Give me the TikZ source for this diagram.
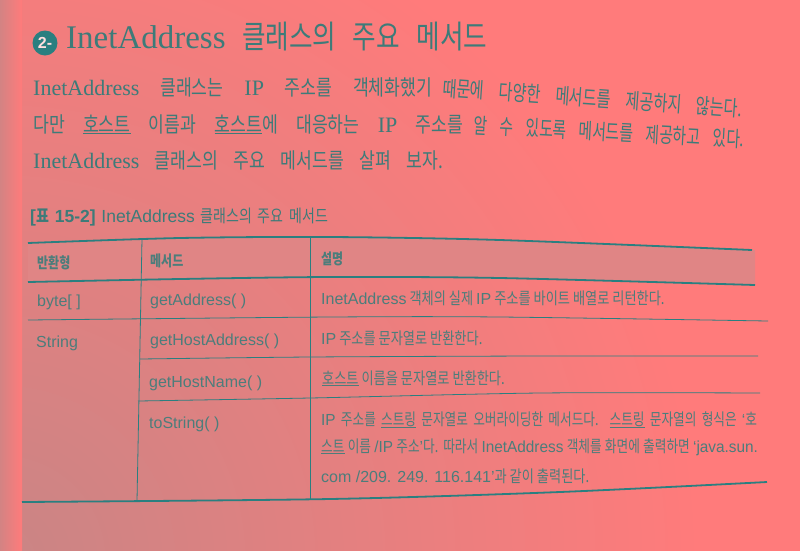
\documentclass[tikz,border=0pt]{standalone}
\usepackage{fontspec}
\setmainfont{Liberation Serif}
\newfontfamily\krfont[FakeStretch=0.8]{Noto Sans CJK KR}
\newfontfamily\sansfont{Liberation Sans}
\usepackage{xcolor}
\usepackage{graphicx}
\usepackage{tikz}
\usetikzlibrary{positioning}

\definecolor{pagebg}{HTML}{FF7B7B}
\definecolor{gutter}{HTML}{C98585}
\definecolor{headfill}{HTML}{E08585}
\definecolor{ink}{HTML}{3D7B79}
\definecolor{cellink}{HTML}{4C7D7B}
\definecolor{rulecol}{HTML}{2A7F80}

% latin words inside korean text
\newcommand\latsize{16}
\newcommand\latfam{\sansfont}
\newcommand\lat[1]{{\latfam\fontsize{\latsize}{\latsize}\selectfont #1}}

\begin{document}
\begin{tikzpicture}[
    x=1pt, y=-1pt,
    titletext/.style={
        anchor=base west, inner sep=0pt, text=ink,
        font={\def\latsize{33}\let\latfam\rmfamily\krfont\fontsize{32}{36}\selectfont}
    },
    bodyline/.style={
        anchor=base west, inner sep=0pt, text=ink,
        font={\def\latsize{22}\let\latfam\rmfamily\krfont\fontsize{21.5}{24}\selectfont}
    },
    captext/.style={
        anchor=base west, inner sep=0pt, text=ink,
        font={\def\latsize{17.5}\let\latfam\sansfont\krfont\fontsize{17.5}{20}\selectfont}
    },
    headtext/.style={
        anchor=base west, inner sep=0pt, text=cellink,
        font=\krfont\bfseries\fontsize{15}{18}\selectfont
    },
    codetext/.style={
        anchor=base west, inner sep=0pt, text=cellink,
        font=\sansfont\fontsize{16}{18}\selectfont
    },
    celltext/.style={
        anchor=base west, inner sep=0pt, text=cellink,
        font={\def\latsize{16}\let\latfam\sansfont\krfont\fontsize{16.5}{18}\selectfont}
    },
    thickrule/.style={draw=rulecol, line width=1.8pt},
    thinrule/.style={draw=rulecol, line width=0.8pt}
]
    \useasboundingbox (0,0) rectangle (800,550);

    % Page
    \fill[pagebg] (-5,-5) rectangle (805,555);
    \begin{scope}
        \clip (-5,-5) rectangle (805,555);
        \shade[inner color=gutter, outer color=pagebg] (0,560) circle (700);
        \shade[left color=gutter, right color=pagebg] (-5,-5) rectangle (22,555);
    \end{scope}

    % Title
    \node[circle, fill=rulecol, minimum size=25pt, inner sep=0pt,
          text=white!75!pagebg, font=\sansfont\bfseries\fontsize{16}{16}\selectfont] (badge) at (45,43) {2-};
    \node[titletext] (title) at (66,48) {\makebox[421pt][s]{\lat{InetAddress} 클래스의 주요 메서드}};

    % Body text (right half of each line bends down with the page)
    \node[bodyline] (line1a) at (33,95) {\makebox[399pt][s]{\lat{InetAddress} 클래스는 \lat{IP} 주소를 객체화했기}};
    \node[bodyline, rotate=-4] (line1b) at (442,96) {\scalebox{0.88}[1]{\makebox[341pt][s]{때문에 다양한 메서드를 제공하지 않는다.}}};
    \node[bodyline] (line2a) at (33,132) {\makebox[430pt][s]{다만 \underline{호스트} 이름과 \underline{호스트}에 대응하는 \lat{IP} 주소를}};
    \node[bodyline, rotate=-3] (line2b) at (473,133) {\scalebox{0.86}[1]{\makebox[315pt][s]{알 수 있도록 메서드를 제공하고 있다.}}};
    \node[bodyline] (line3) at (33,168) {\makebox[410pt][s]{\lat{InetAddress} 클래스의 주요 메서드를 살펴 보자.}};

    % Caption
    \node[captext] (caption) at (30,222) {\makebox[298pt][s]{{\bfseries\lat{[}표 \lat{15-2]}} \lat{InetAddress} 클래스의 주요 메서드}};

    % Table rules
    \fill[headfill] plot[smooth] coordinates {(28,243) (180,238) (330,237) (500,240) (755,250)}
        -- plot[smooth] coordinates {(755,285) (500,278) (330,277) (180,279) (28,282)} -- cycle;
    \draw[thinrule] (142,239) -- (137,501);
    \draw[thinrule] (310,237) -- (310,499);
    \draw[thickrule] plot[smooth] coordinates {(28,243) (180,238) (330,237) (500,240) (752,250)};
    \draw[thickrule] plot[smooth] coordinates {(28,282) (180,279) (330,277) (500,278) (755,285)};
    \draw[thinrule] plot[smooth] coordinates {(28,320) (330,317) (500,317) (768,321)};
    \draw[thinrule] plot[smooth] coordinates {(140,359) (310,357) (540,356) (758,356)};
    \draw[thinrule] plot[smooth] coordinates {(138,401) (310,398) (540,393) (760,393)};
    \draw[thickrule] plot[smooth] coordinates {(22,502) (330,499) (560,492) (767,482)};

    % Header
    \node[headtext] (hType) at (37,268) {반환형};
    \node[headtext] (hMethod) at (150,266) {메서드};
    \node[headtext] (hDesc) at (321,264) {설명};

    % Rows
    \node[codetext] (tByte) at (37,306) {byte[ ]};
    \node[codetext] (mAddr) at (150,305) {getAddress( )};
    \node[celltext] (dAddr) at (321,304) {\lat{InetAddress} 객체의 실제 \lat{IP} 주소를 바이트 배열로 리턴한다.};

    \node[codetext] (tString) at (36,347) {String};
    \node[codetext] (mHostAddr) at (150,345) {getHostAddress( )};
    \node[celltext] (dHostAddr) at (321,344) {\lat{IP} 주소를 문자열로 반환한다.};

    \node[codetext] (mHostName) at (149,387) {getHostName( )};
    \node[celltext] (dHostName) at (322,384) {\underline{호스트} 이름을 문자열로 반환한다.};

    \node[codetext] (mToString) at (149,428) {toString( )};
    \node[celltext] (dToString1) at (321,425) {\scalebox{0.96}[1]{\makebox[454pt][s]{\lat{IP} 주소를 \underline{스트링} 문자열로 오버라이딩한 메서드다. \underline{스트링} 문자열의 형식은 \lat{‘}호}}};
    \node[celltext] (dToString2) at (321,452) {\scalebox{0.96}[1]{\makebox[455pt][s]{\underline{스트} 이름 \lat{/IP} 주소\lat{’}다. 따라서 \lat{InetAddress} 객체를 화면에 출력하면 \lat{‘java.sun.}}}};
    \node[celltext] (dToString3) at (321,482) {\lat{com /209. 249. 116.141’}과 같이 출력된다.};
\end{tikzpicture}
\end{document}
